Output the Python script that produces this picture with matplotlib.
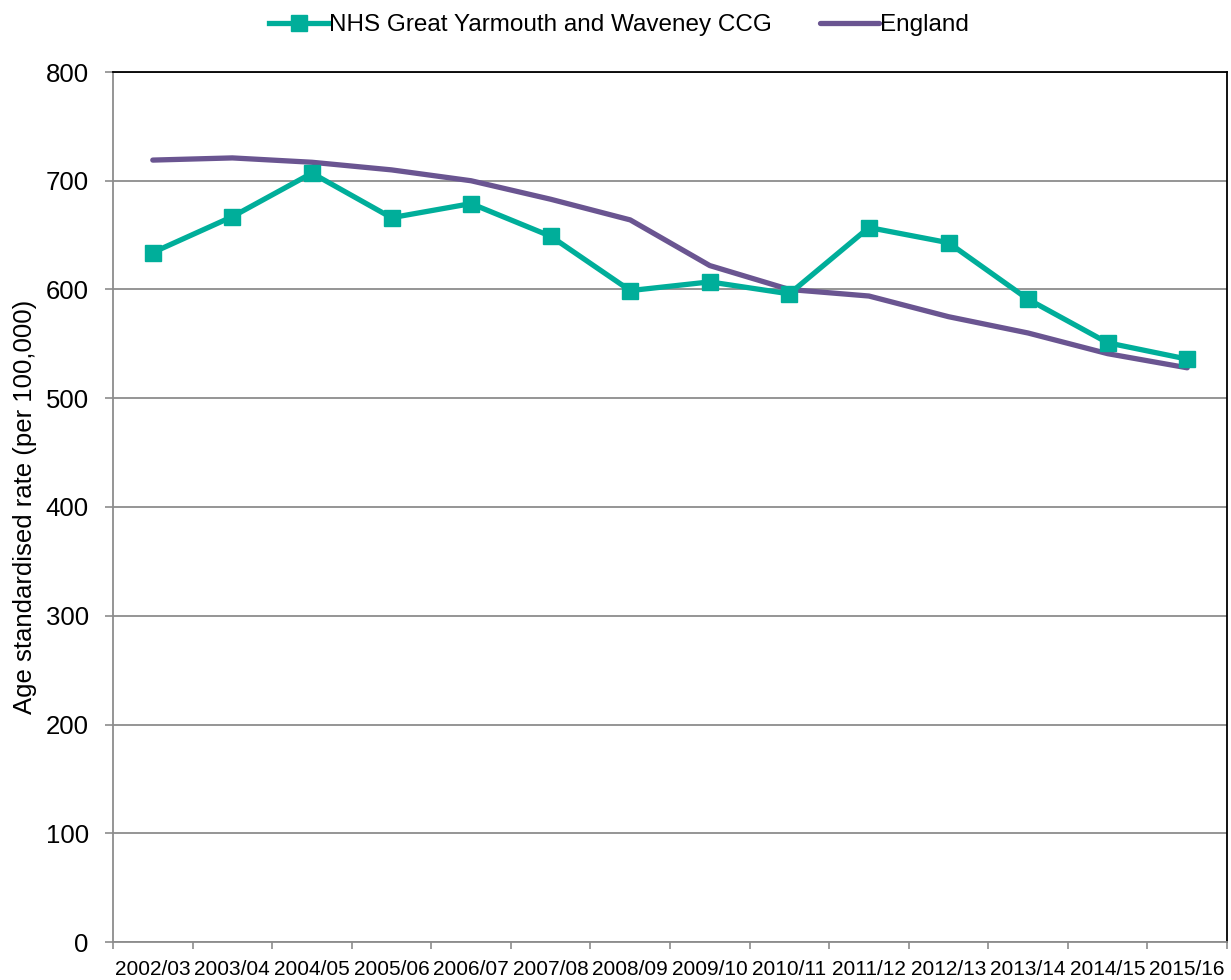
import matplotlib
matplotlib.use("Agg")
import matplotlib.pyplot as plt
import numpy as np

plt.rcParams['font.family'] = ['Liberation Sans', 'DejaVu Sans']

years = ["2002/03", "2003/04", "2004/05", "2005/06", "2006/07", "2007/08", "2008/09",
         "2009/10", "2010/11", "2011/12", "2012/13", "2013/14", "2014/15", "2015/16"]
ccg_rate = [634, 667, 707, 666, 679, 649, 599, 607, 596, 657, 643, 591, 551, 536]
england_rate = [719, 721, 717, 710, 700, 683, 664, 622, 600, 594, 575, 560, 541, 528]

teal = '#00ae9a'
purple = '#6a5591'
grid_grey = '#8c8c8c'

fig = plt.figure(figsize=(12.31, 9.8), dpi=100)
ax = fig.add_axes([113 / 1231, 38 / 980, 1114 / 1231, 870 / 980])

x = np.arange(len(years))
ax.plot(x, ccg_rate, color=teal, lw=3.8, marker='s', markersize=11,
        label='NHS Great Yarmouth and Waveney CCG', zorder=3)
ax.plot(x, england_rate, color=purple, lw=3.8, solid_capstyle='round',
        label='England', zorder=2)

ax.set_xlim(-0.5, len(years) - 0.5)
ax.set_ylim(0, 800)
ax.set_yticks(np.arange(0, 801, 100))
ax.set_xticks(x)
ax.set_xticklabels(years, fontsize=15)
ax.set_xticks(np.arange(-0.5, len(years), 1), minor=True)
ax.tick_params(axis='x', which='major', length=0, pad=13)
ax.tick_params(axis='x', which='minor', length=5, color=grid_grey, width=1.2)
ax.tick_params(axis='y', labelsize=18.5, length=5.5, color=grid_grey, width=1.2, pad=12)

ax.grid(axis='y', color=grid_grey, lw=1.3, zorder=0)
ax.set_axisbelow(True)

for side in ['left', 'bottom']:
    ax.spines[side].set_color(grid_grey)
    ax.spines[side].set_linewidth(1.3)
for side in ['top', 'right']:
    ax.spines[side].set_color('black')
    ax.spines[side].set_linewidth(1.3)

ax.set_ylabel('Age standardised rate (per 100,000)', fontsize=18.5, labelpad=6)

fig.legend(loc='upper center', bbox_to_anchor=(0.503, 1.008), ncol=2, frameon=False,
           fontsize=17.5, handlelength=2.4, handletextpad=0.05, columnspacing=2.0)

fig.savefig('out.png', dpi=100)
